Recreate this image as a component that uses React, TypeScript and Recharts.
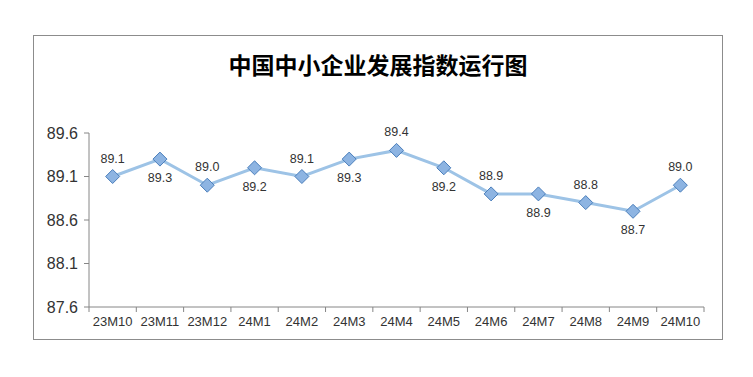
import React from 'react';
import { LineChart, Line, XAxis, YAxis, LabelList } from 'recharts';

const months = ['23M10', '23M11', '23M12', '24M1', '24M2', '24M3', '24M4', '24M5', '24M6', '24M7', '24M8', '24M9', '24M10'];
const sdiValues = [89.1, 89.3, 89.0, 89.2, 89.1, 89.3, 89.4, 89.2, 88.9, 88.9, 88.8, 88.7, 89.0];
const yTicks = [87.6, 88.1, 88.6, 89.1, 89.6];

const W = 753;
const H = 377;
const MARGIN = { top: 133, right: 49, bottom: 40, left: 33 };
const Y_AXIS_W = 56;
const PLOT_W = W - MARGIN.left - MARGIN.right - Y_AXIS_W;
const STEP = PLOT_W / months.length;

// points sit in the middle of each category slot, axis ticks on slot boundaries
const data = months.map((m, i) => ({ pos: i + 0.5, month: m, value: sdiValues[i] }));
const boundaryTicks = months.map((_, i) => i).concat(months.length);

const FONT = '"Liberation Sans", Arial, sans-serif';
const TEXT = '#333';

const Diamond = (props: any) => {
  const { cx, cy } = props;
  if (cx == null || cy == null) return null;
  const r = 7;
  return (
    <path
      d={`M${cx},${cy - r}L${cx + r},${cy}L${cx},${cy + r}L${cx - r},${cy}Z`}
      fill="#8DB4E2"
      stroke="#4A7EBB"
      strokeWidth={1}
    />
  );
};

const XTick = (props: any) => {
  const { x, y, payload } = props;
  const i = payload.value;
  if (i >= months.length) return null;
  return (
    <text x={x + STEP / 2} y={y + 12} textAnchor="middle" fontSize={13} fontFamily={FONT} fill={TEXT}>
      {months[i]}
    </text>
  );
};

const PointLabel = (props: any) => {
  const { x, y, value, index } = props;
  const above = index % 2 === 0;
  return (
    <text
      x={x}
      y={above ? y - 18 : y + 19}
      textAnchor="middle"
      dominantBaseline="central"
      fontSize={12.5}
      fontFamily={FONT}
      fill={TEXT}
    >
      {Number(value).toFixed(1)}
    </text>
  );
};

export default function App() {
  return (
    <div style={{ position: 'absolute', left: 0, top: 0, width: W, height: H, background: '#fff' }}>
      <div
        style={{
          position: 'absolute',
          left: 33,
          top: 35,
          width: 688,
          height: 303,
          border: '1px solid #8c8c8c',
        }}
      />
      <div
        style={{
          position: 'absolute',
          left: 33,
          top: 50,
          width: 690,
          textAlign: 'center',
          fontFamily: '"Noto Sans CJK SC", sans-serif',
          fontWeight: 600,
          fontSize: 23,
          lineHeight: '28px',
          color: '#000',
        }}
      >
        中国中小企业发展指数运行图
      </div>
      <div style={{ position: 'absolute', left: 0, top: 0 }}>
        <LineChart width={W} height={H} data={data} margin={MARGIN}>
          <XAxis
            dataKey="pos"
            type="number"
            domain={[0, months.length]}
            ticks={boundaryTicks}
            interval={0}
            tick={<XTick />}
            tickLine={{ stroke: '#868686' }}
            tickSize={5}
            axisLine={{ stroke: '#868686' }}
            height={30}
          />
          <YAxis
            type="number"
            domain={[87.6, 89.6]}
            ticks={yTicks}
            interval={0}
            width={Y_AXIS_W}
            tickFormatter={(v: number) => v.toFixed(1)}
            tick={{ fontSize: 16, fontFamily: FONT, fill: TEXT }}
            tickLine={{ stroke: '#868686' }}
            tickSize={5}
            tickMargin={6}
            axisLine={{ stroke: '#868686' }}
          />
          <Line
            dataKey="value"
            stroke="#9DC3E6"
            strokeWidth={3}
            dot={<Diamond />}
            activeDot={false}
            isAnimationActive={false}
          >
            <LabelList dataKey="value" content={<PointLabel />} />
          </Line>
        </LineChart>
      </div>
    </div>
  );
}
